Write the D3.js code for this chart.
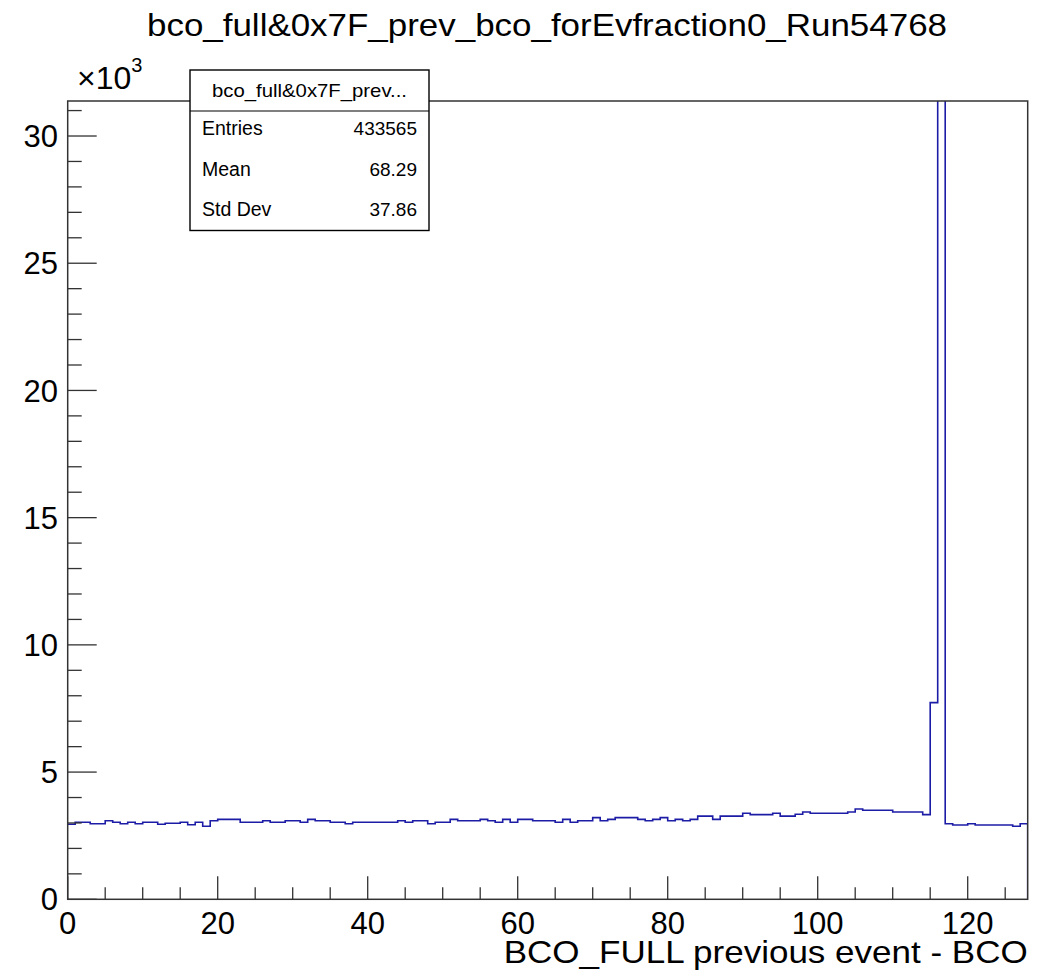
<!DOCTYPE html>
<html>
<head>
<meta charset="utf-8">
<script src="https://cdn.jsdelivr.net/npm/d3@7"></script>
<style>
  body { margin: 0; background: #fff; }
  svg { font-family: "Liberation Sans", Arial, sans-serif; }
</style>
</head>
<body>
<div class="chart"></div>
<script>
// histogram contents (128 bins, width 1)
var binEdges = d3.range(0, 129);
var counts = [
  2950, 3030, 3030, 2970, 2970, 3090, 3030, 2970, 3030, 2970,
  3030, 3030, 2950, 2990, 2990, 3030, 2930, 3030, 2870, 3090,
  3140, 3140, 3140, 3030, 3030, 3030, 3090, 3030, 3030, 3090,
  3090, 3030, 3140, 3090, 3090, 3030, 3030, 2970, 3030, 3030,
  3030, 3030, 3030, 3030, 3090, 3030, 3090, 3090, 2970, 3030,
  3030, 3140, 3090, 3090, 3090, 3140, 3090, 3030, 3140, 3030,
  3140, 3140, 3090, 3090, 3090, 3030, 3140, 3030, 3090, 3090,
  3210, 3090, 3140, 3210, 3210, 3210, 3140, 3090, 3140, 3210,
  3090, 3140, 3090, 3140, 3270, 3270, 3140, 3270, 3270, 3270,
  3380, 3330, 3330, 3330, 3380, 3270, 3270, 3340, 3430, 3380,
  3380, 3380, 3380, 3380, 3430, 3550, 3500, 3500, 3500, 3500,
  3430, 3430, 3430, 3430, 3330, 7730, 33000, 2970, 2920, 2920,
  2970, 2920, 2920, 2920, 2920, 2920, 2870, 2970
];
var xTicks = [0, 20, 40, 60, 80, 100, 120];
var yTicks = [0, 5000, 10000, 15000, 20000, 25000, 30000];

var titleText = "bco_full&0x7F_prev_bco_forEvfraction0_Run54768";
var xTitle = "BCO_FULL previous event - BCO";
var statsName = "bco_full&0x7F_prev...";
var statsLabels = ["Entries", "Mean", "Std Dev"];
var statsValues = ["433565", "68.29", "37.86"];

var W = 1056, H = 972;
var frame = {left: 67.7, right: 1027.7, top: 101, bottom: 899.3};

var svg = d3.select("div.chart").append("svg")
    .attr("width", W)
    .attr("height", H);

// 目盛り
var x = d3.scaleLinear().domain([0, 128]).range([frame.left, frame.right]);
var y = d3.scaleLinear().domain([0, 31376]).range([frame.bottom, frame.top]);

// title (stretched a little to the reference width)
svg.append("text")
    .attr("x", 547)
    .attr("y", 36)
    .attr("text-anchor", "middle")
    .attr("textLength", 800)
    .attr("lengthAdjust", "spacingAndGlyphs")
    .style("font-size", "32px")
    .text(titleText);

// clip for the histogram line
svg.append("clipPath").attr("id", "frameclip")
  .append("rect")
    .attr("x", frame.left).attr("y", frame.top)
    .attr("width", frame.right - frame.left)
    .attr("height", frame.bottom - frame.top);

// step outline
var pts = [];
counts.forEach(function(c, i) {
    pts.push([x(binEdges[i]), y(c)]);
    pts.push([x(binEdges[i + 1]), y(c)]);
});
pts.push([x(128), y(0)]);

svg.append("path")
    .attr("clip-path", "url(#frameclip)")
    .attr("d", d3.line()(pts))
    .attr("fill", "none")
    .attr("stroke", "#1c1ca6")
    .attr("stroke-width", 1.6);

// frame
svg.append("rect")
    .attr("x", frame.left).attr("y", frame.top)
    .attr("width", frame.right - frame.left)
    .attr("height", frame.bottom - frame.top)
    .attr("fill", "none")
    .attr("stroke", "#333")
    .attr("stroke-width", 1.5);

// y axis ticks (inside), major 5k minor 1k
var yMinor = d3.range(0, 31001, 1000);
svg.append("g").selectAll("line").data(yMinor).enter().append("line")
    .attr("x1", frame.left)
    .attr("x2", function(d) { return frame.left + (d % 5000 === 0 ? 29 : 14); })
    .attr("y1", function(d) { return y(d); })
    .attr("y2", function(d) { return y(d); })
    .attr("stroke", "#333")
    .attr("stroke-width", 1.3);

svg.append("g").selectAll("text").data(yTicks).enter().append("text")
    .attr("x", 58)
    .attr("y", function(d) { return y(d); })
    .attr("dy", "0.36em")
    .attr("text-anchor", "end")
    .style("font-size", "31px")
    .text(function(d) { return d / 1000; });

// x10^3
var mult = svg.append("text")
    .attr("x", 77)
    .attr("y", 89)
    .style("font-size", "32px");
mult.append("tspan").text("\u00d710");
mult.append("tspan")
    .attr("dy", -17)
    .style("font-size", "20px")
    .text("3");

// x axis ticks, major 20 minor 5
var xMinor = d3.range(0, 128, 5);
svg.append("g").selectAll("line").data(xMinor).enter().append("line")
    .attr("x1", function(d) { return x(d); })
    .attr("x2", function(d) { return x(d); })
    .attr("y1", frame.bottom)
    .attr("y2", function(d) { return frame.bottom - (d % 20 === 0 ? 23 : 12); })
    .attr("stroke", "#333")
    .attr("stroke-width", 1.3);

svg.append("g").selectAll("text").data(xTicks).enter().append("text")
    .attr("x", function(d) { return x(d); })
    .attr("y", 934)
    .attr("text-anchor", "middle")
    .style("font-size", "31px")
    .text(function(d) { return d; });

svg.append("text")
    .attr("x", frame.right)
    .attr("y", 963)
    .attr("text-anchor", "end")
    .attr("textLength", 524)
    .attr("lengthAdjust", "spacingAndGlyphs")
    .style("font-size", "32px")
    .text(xTitle);

// stats box
var box = {x: 190, y: 70, w: 239, h: 160.5};
svg.append("rect")
    .attr("x", box.x).attr("y", box.y)
    .attr("width", box.w).attr("height", box.h)
    .attr("fill", "#fff")
    .attr("stroke", "#000")
    .attr("stroke-width", 1.4);
svg.append("line")
    .attr("x1", box.x).attr("x2", box.x + box.w)
    .attr("y1", 111).attr("y2", 111)
    .attr("stroke", "#000")
    .attr("stroke-width", 1.2);
svg.append("text")
    .attr("x", box.x + box.w / 2)
    .attr("y", 97)
    .attr("text-anchor", "middle")
    .attr("textLength", 195)
    .attr("lengthAdjust", "spacingAndGlyphs")
    .style("font-size", "19px")
    .text(statsName);

var rowY = [135, 176, 216];
statsLabels.forEach(function(lab, i) {
    svg.append("text")
        .attr("x", 202).attr("y", rowY[i])
        .style("font-size", "19.5px")
        .text(lab);
    svg.append("text")
        .attr("x", 417).attr("y", rowY[i])
        .attr("text-anchor", "end")
        .style("font-size", "19px")
        .text(statsValues[i]);
});
</script>
</body>
</html>
